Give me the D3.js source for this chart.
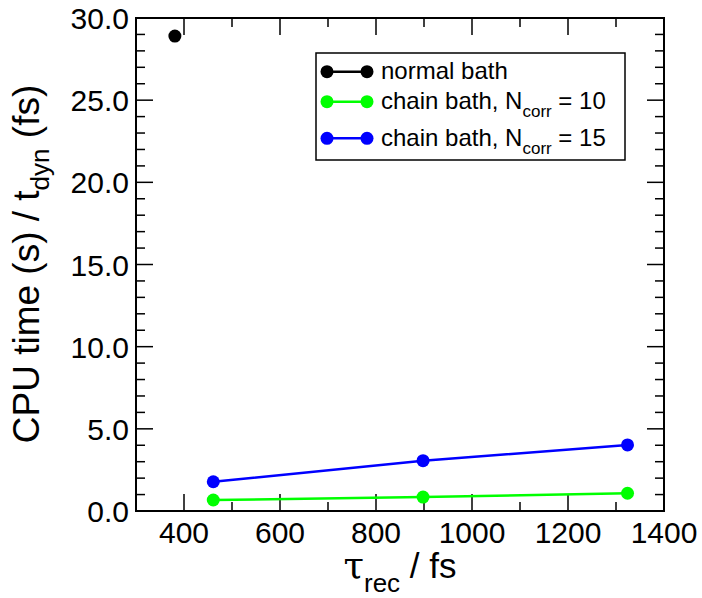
<!DOCTYPE html>
<html>
<head>
<meta charset="utf-8">
<script src="https://cdn.jsdelivr.net/npm/d3@7"></script>
<style>
  html, body { margin: 0; padding: 0; background: #fff; }
  svg { display: block; font-family: "Liberation Sans", Arial, sans-serif; }
</style>
</head>
<body>
<svg id="chart" width="702" height="598"></svg>
<script>
// ---- data ----
const normalX = [381];
const normalY = [28.9];
const chain10X = [461, 898, 1324];
const chain10Y = [0.67, 0.85, 1.08];
const chain15X = [461, 898, 1324];
const chain15Y = [1.78, 3.06, 4.02];
const xTickValues = [400, 600, 800, 1000, 1200, 1400];
const yTickValues = [0, 5, 10, 15, 20, 25, 30];
const yTickLabels = ["0.0", "5.0", "10.0", "15.0", "20.0", "25.0", "30.0"];
const seriesNames = ["normal bath", "chain bath, N", "chain bath, N"];
const seriesSubs = ["", "corr", "corr"];
const seriesTails = ["", " = 10", " = 15"];
const seriesColors = ["#000000", "#00ff00", "#0000ff"];

const svg = d3.select("#chart");
const L = 136, R = 664, T = 18, B = 511;
const x = d3.scaleLinear().domain([300, 1400]).range([L, R]);
const y = d3.scaleLinear().domain([0, 30]).range([B, T]);

const xMinor = d3.range(300, 1401, 100).filter(v => v > 300 && v < 1400 && v % 200 !== 0);
const yMinor = d3.range(0, 31, 1).filter(v => v > 0 && v < 30 && v % 5 !== 0);

const g = svg.append("g");

// ticks (inside, on all four sides)
function hTicks(vals, len) {
  vals.forEach(v => {
    g.append("line").attr("x1", x(v)).attr("x2", x(v)).attr("y1", B).attr("y2", B - len)
      .attr("stroke", "#000").attr("stroke-width", 1.5);
    g.append("line").attr("x1", x(v)).attr("x2", x(v)).attr("y1", T).attr("y2", T + len)
      .attr("stroke", "#000").attr("stroke-width", 1.5);
  });
}
function vTicks(vals, len) {
  vals.forEach(v => {
    g.append("line").attr("y1", y(v)).attr("y2", y(v)).attr("x1", L).attr("x2", L + len)
      .attr("stroke", "#000").attr("stroke-width", 1.5);
    g.append("line").attr("y1", y(v)).attr("y2", y(v)).attr("x1", R).attr("x2", R - len)
      .attr("stroke", "#000").attr("stroke-width", 1.5);
  });
}
hTicks(xTickValues.filter(v => v < 1400), 17);
hTicks(xMinor, 9);
vTicks(yTickValues.filter(v => v > 0 && v < 30), 17);
vTicks(yMinor, 9);

// tick labels
g.selectAll(".xl").data(xTickValues).enter().append("text")
  .attr("x", d => x(d)).attr("y", 543).attr("text-anchor", "middle")
  .attr("font-size", 30).text(d => d);
g.selectAll(".yl").data(yTickValues).enter().append("text")
  .attr("x", 129).attr("y", d => y(d) + 11).attr("text-anchor", "end")
  .attr("font-size", 30).text((d, i) => yTickLabels[i]);

// frame
g.append("rect").attr("x", L).attr("y", T).attr("width", R - L).attr("height", B - T)
  .attr("fill", "none").attr("stroke", "#000").attr("stroke-width", 2);

// series
const series = [
  { xs: normalX, ys: normalY },
  { xs: chain10X, ys: chain10Y },
  { xs: chain15X, ys: chain15Y }
];
const line = d3.line().x(d => x(d[0])).y(d => y(d[1]));
series.forEach((s, i) => {
  const pts = s.xs.map((v, j) => [v, s.ys[j]]);
  if (pts.length > 1) {
    g.append("path").attr("d", line(pts)).attr("fill", "none")
      .attr("stroke", seriesColors[i]).attr("stroke-width", 2.5);
  }
  g.selectAll(null).data(pts).enter().append("circle")
    .attr("cx", d => x(d[0])).attr("cy", d => y(d[1])).attr("r", 6.5)
    .attr("fill", seriesColors[i]);
});

// legend
const lg = svg.append("g");
lg.append("rect").attr("x", 316).attr("y", 53).attr("width", 309).attr("height", 107)
  .attr("fill", "#fff").attr("stroke", "#000").attr("stroke-width", 1.5);
const rowY = [71.7, 101.7, 138.3];
seriesNames.forEach((name, i) => {
  const cy = rowY[i];
  lg.append("line").attr("x1", 327).attr("x2", 367).attr("y1", cy).attr("y2", cy)
    .attr("stroke", seriesColors[i]).attr("stroke-width", 2.5);
  lg.append("circle").attr("cx", 327).attr("cy", cy).attr("r", 6.5).attr("fill", seriesColors[i]);
  lg.append("circle").attr("cx", 367).attr("cy", cy).attr("r", 6.5).attr("fill", seriesColors[i]);
  const t = lg.append("text").attr("x", 381).attr("y", cy + 7.5).attr("font-size", 24);
  t.append("tspan").text(name);
  if (seriesSubs[i]) {
    t.append("tspan").attr("font-size", 17).attr("dy", 8).text(seriesSubs[i]);
    t.append("tspan").attr("dy", -8).text(seriesTails[i]);
  }
});

// axis titles
const xt = svg.append("text").attr("x", 400).attr("y", 578).attr("text-anchor", "middle")
  .attr("font-size", 35);
xt.append("tspan").attr("font-family", "DejaVu Serif, serif").attr("font-size", 37).text("τ");
xt.append("tspan").attr("font-size", 26).attr("dy", 14).text("rec");
xt.append("tspan").attr("dy", -14).text(" / fs");

const yt = svg.append("text").attr("transform", "translate(39,264) rotate(-90)")
  .attr("text-anchor", "middle").attr("font-size", 37);
yt.append("tspan").text("CPU time (s) / t");
yt.append("tspan").attr("font-size", 26).attr("dy", 10).text("dyn");
yt.append("tspan").attr("dy", -10).text(" (fs)");
</script>
</body>
</html>
